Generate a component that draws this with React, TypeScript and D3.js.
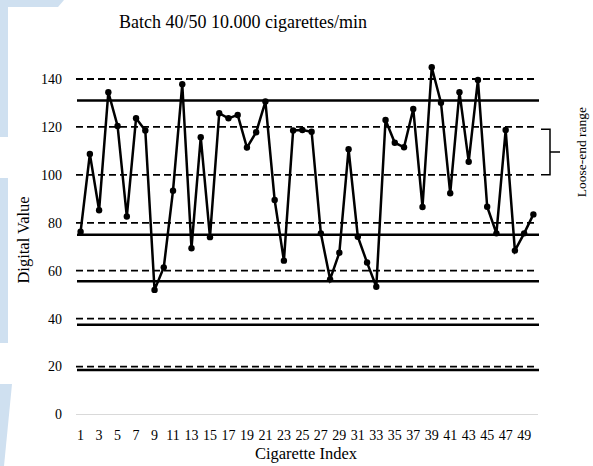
import React, { useEffect, useRef } from "react";
import * as d3 from "d3";

// cigarette index 1..50 and the digital value of each
const indices = d3.range(1, 51);
const values = [
  76.3, 108.7, 85.2, 134.5, 120.4, 82.6, 123.6, 118.5, 52.0, 61.4,
  93.4, 137.8, 69.4, 115.7, 74.0, 125.7, 123.6, 125.0, 111.4, 117.8,
  130.6, 89.5, 64.2, 118.5, 118.7, 118.0, 75.6, 56.4, 67.5, 110.7,
  74.2, 63.4, 53.3, 122.9, 113.4, 111.5, 127.5, 86.6, 144.9, 130.1,
  92.3, 134.5, 105.5, 139.6, 86.7, 75.6, 118.7, 68.4, 75.6, 83.5,
];
const yTicks = [0, 20, 40, 60, 80, 100, 120, 140];
const dashedLevels = [20, 40, 60, 80, 100, 120, 140];
const solidLevels = [18.6, 37.4, 55.6, 75, 131];
const looseRange = [100, 119];

const App = () => {
  const svgRef = useRef<SVGSVGElement | null>(null);

  useEffect(() => {
    const width = 593;
    const height = 466;
    const svg = d3.select(svgRef.current).attr("width", width).attr("height", height);
    svg.selectAll("*").remove();

    const serif = "'Liberation Serif', 'Times New Roman', serif";

    // faint blue page decoration on the left edge
    const deco = svg.append("g").attr("fill", "#cfe0f0");
    deco.append("polygon").attr("points", "0,0 64,0 58,7 0,7");
    deco.append("rect").attr("x", 0).attr("y", 7).attr("width", 8).attr("height", 130);
    deco.append("rect").attr("x", 0).attr("y", 178).attr("width", 8).attr("height", 165);
    deco.append("polygon").attr("points", "0,384 12,384 4,466 0,466");

    const x = d3.scaleBand<number>().domain(indices).range([76, 538]);
    const y = d3.scaleLinear().domain([0, 140]).range([414.5, 79]);
    const cx = (i: number) => (x(i) as number) + x.bandwidth() / 2;

    // zero axis line
    svg.append("line")
      .attr("x1", 76).attr("x2", 538)
      .attr("y1", y(0)).attr("y2", y(0))
      .attr("stroke", "#d9d9d9").attr("stroke-width", 1);

    // dashed grid
    svg.append("g")
      .selectAll("line")
      .data(dashedLevels)
      .enter()
      .append("line")
      .attr("x1", 76).attr("x2", 536)
      .attr("y1", (d) => y(d)).attr("y2", (d) => y(d))
      .attr("stroke", "#000").attr("stroke-width", 1.8)
      .attr("stroke-dasharray", "7,4");

    // solid limit lines
    svg.append("g")
      .selectAll("line")
      .data(solidLevels)
      .enter()
      .append("line")
      .attr("x1", 77).attr("x2", 539)
      .attr("y1", (d) => y(d)).attr("y2", (d) => y(d))
      .attr("stroke", "#000").attr("stroke-width", 2.5);

    // y tick labels
    svg.append("g")
      .selectAll("text")
      .data(yTicks)
      .enter()
      .append("text")
      .attr("x", 62)
      .attr("y", (d) => y(d))
      .attr("dy", "0.35em")
      .attr("text-anchor", "end")
      .style("font-family", serif)
      .style("font-size", "14px")
      .text((d) => d);

    // x tick labels, every other index
    svg.append("g")
      .selectAll("text")
      .data(indices.filter((d) => d % 2 === 1))
      .enter()
      .append("text")
      .attr("x", (d) => cx(d))
      .attr("y", 439.5)
      .attr("text-anchor", "middle")
      .style("font-family", serif)
      .style("font-size", "14px")
      .text((d) => d);

    // series
    const line = d3.line<number>()
      .x((_, i) => cx(indices[i]))
      .y((d) => y(d));
    svg.append("path")
      .datum(values)
      .attr("d", line)
      .attr("fill", "none")
      .attr("stroke", "#000")
      .attr("stroke-width", 2.5)
      .attr("stroke-linejoin", "miter");

    svg.append("g")
      .selectAll("circle")
      .data(values)
      .enter()
      .append("circle")
      .attr("cx", (_, i) => cx(indices[i]))
      .attr("cy", (d) => y(d))
      .attr("r", 3.2)
      .attr("fill", "#000");

    // loose-end bracket
    const [lo, hi] = looseRange;
    const bx = 550;
    svg.append("path")
      .attr("d", `M541,${y(hi)}H${bx}V${y(lo)}H541M${bx},${(y(hi) + y(lo)) / 2}H560`)
      .attr("fill", "none")
      .attr("stroke", "#000")
      .attr("stroke-width", 1.5);
    svg.append("text")
      .attr("transform", `translate(581,${(y(hi) + y(lo)) / 2}) rotate(-90)`)
      .attr("dy", "0.35em")
      .attr("text-anchor", "middle")
      .style("font-family", serif)
      .style("font-size", "13.5px")
      .text("Loose-end range");

    // title
    svg.append("text")
      .attr("x", 243)
      .attr("y", 28)
      .attr("text-anchor", "middle")
      .style("font-family", serif)
      .style("font-size", "18px")
      .text("Batch 40/50 10.000 cigarettes/min");

    // axis titles
    svg.append("text")
      .attr("x", 306)
      .attr("y", 459)
      .attr("text-anchor", "middle")
      .style("font-family", serif)
      .style("font-size", "16.5px")
      .text("Cigarette Index");

    svg.append("text")
      .attr("transform", "translate(23,240) rotate(-90)")
      .attr("dy", "0.35em")
      .attr("text-anchor", "middle")
      .style("font-family", serif)
      .style("font-size", "16.5px")
      .text("Digital Value");
  }, []);

  return (
    <div style={{ position: "absolute", left: 0, top: 0 }}>
      <svg ref={svgRef}></svg>
    </div>
  );
};

export default App;
